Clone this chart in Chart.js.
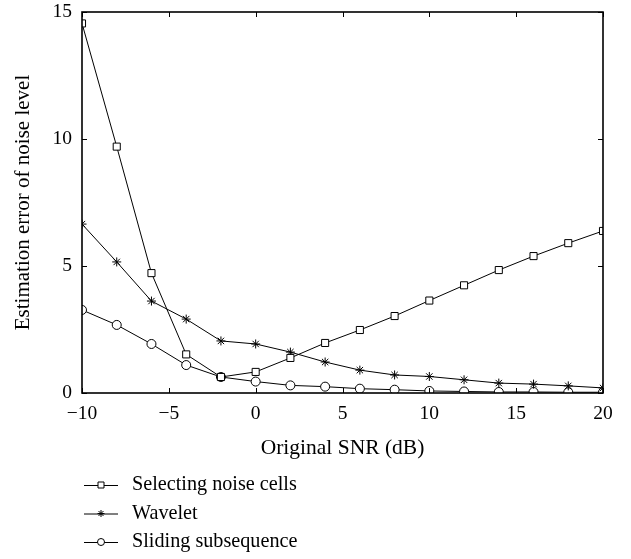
<!DOCTYPE html>
<html>
<head>
<meta charset="utf-8">
<script src="https://cdn.jsdelivr.net/npm/chart.js@4.4.1/dist/chart.umd.min.js"></script>
<style>
  html, body { margin: 0; padding: 0; background: #fff; }
  #wrap { width: 631px; height: 559px; }
</style>
</head>
<body>
<div id="wrap"><canvas id="chart" width="631" height="559"></canvas></div>
<script>
// SNR values (dB)
const snr = [-10, -8, -6, -4, -2, 0, 2, 4, 6, 8, 10, 12, 14, 16, 18, 20];

// estimation error
const selectingNoiseCells = [14.55, 9.7, 4.72, 1.52, 0.63, 0.83, 1.38, 1.97, 2.48, 3.03, 3.64, 4.24, 4.84, 5.39, 5.9, 6.38];
const wavelet = [6.65, 5.16, 3.62, 2.91, 2.05, 1.93, 1.61, 1.22, 0.9, 0.71, 0.65, 0.52, 0.39, 0.35, 0.28, 0.2];
const slidingSubsequence = [3.27, 2.68, 1.93, 1.1, 0.63, 0.45, 0.3, 0.25, 0.17, 0.13, 0.08, 0.06, 0.04, 0.04, 0.03, 0.03];

const seriesNames = ['Selecting noise cells', 'Wavelet', 'Sliding subsequence'];
const xTicks = [-10, -5, 0, 5, 10, 15, 20];
const yTicks = [0, 5, 10, 15];

const FONT = "'Liberation Serif', 'DejaVu Serif', serif";

function pts(ys) {
    return snr.map((x, i) => ({ x: x, y: ys[i] }));
}

// box round the plot + inward ticks on all four sides
const frame = {
    id: 'frame',
    afterDatasetsDraw(chart) {
        const { ctx, chartArea: a, scales } = chart;
        ctx.save();
        ctx.strokeStyle = '#000';
        ctx.lineWidth = 1;
        ctx.beginPath();
        xTicks.forEach(v => {
            const px = Math.round(scales.x.getPixelForValue(v)) + 0.5;
            ctx.moveTo(px, a.bottom); ctx.lineTo(px, a.bottom - 5);
            ctx.moveTo(px, a.top); ctx.lineTo(px, a.top + 5);
        });
        yTicks.forEach(v => {
            const py = Math.round(scales.y.getPixelForValue(v)) + 0.5;
            ctx.moveTo(a.left, py); ctx.lineTo(a.left + 5, py);
            ctx.moveTo(a.right, py); ctx.lineTo(a.right - 5, py);
        });
        ctx.stroke();
        ctx.lineWidth = 1.6;
        ctx.strokeRect(a.left, a.top, a.right - a.left, a.bottom - a.top);
        ctx.restore();
    }
};

// legend stacked under the x title, like the original figure
const stackedLegend = {
    id: 'stackedLegend',
    afterDraw(chart) {
        const ctx = chart.ctx;
        ctx.save();
        ctx.font = '20.2px ' + FONT;
        ctx.fillStyle = '#000';
        ctx.strokeStyle = '#000';
        ctx.textBaseline = 'middle';
        chart.data.datasets.forEach((ds, i) => {
            const y = 485 + i * 28.5;
            ctx.lineWidth = 1;
            ctx.beginPath();
            ctx.moveTo(84, y + 0.5); ctx.lineTo(118, y + 0.5);
            ctx.stroke();
            const cx = 101;
            ctx.beginPath();
            if (ds.pointStyle === 'rect') {
                ctx.fillStyle = '#fff';
                ctx.rect(cx - 3, y - 3, 6, 6);
                ctx.fill(); ctx.stroke();
            } else if (ds.pointStyle === 'circle') {
                ctx.fillStyle = '#fff';
                ctx.arc(cx, y, 3.5, 0, Math.PI * 2);
                ctx.fill(); ctx.stroke();
            } else {
                for (let k = 0; k < 4; k++) {
                    const ang = k * Math.PI / 4;
                    ctx.moveTo(cx - 3.5 * Math.cos(ang), y - 3.5 * Math.sin(ang));
                    ctx.lineTo(cx + 3.5 * Math.cos(ang), y + 3.5 * Math.sin(ang));
                }
                ctx.stroke();
            }
            ctx.fillStyle = '#000';
            ctx.fillText(ds.label, 132, y);
        });
        ctx.restore();
    }
};

new Chart(document.getElementById('chart'), {
    type: 'line',
    data: {
        datasets: [
            { label: seriesNames[0], data: pts(selectingNoiseCells), pointStyle: 'rect', pointRadius: 5 },
            { label: seriesNames[1], data: pts(wavelet), pointStyle: 'star', pointRadius: 4.5 },
            { label: seriesNames[2], data: pts(slidingSubsequence), pointStyle: 'circle', pointRadius: 4.5 }
        ].map(d => Object.assign(d, {
            borderColor: '#000',
            borderWidth: 1,
            pointBorderColor: '#000',
            pointBackgroundColor: '#fff',
            pointBorderWidth: 1,
            tension: 0,
            fill: false
        }))
    },
    options: {
        responsive: false,
        animation: false,
        layout: { padding: { top: 12, right: 28, bottom: 98, left: 0 } },
        plugins: {
            legend: { display: false },
            tooltip: { enabled: false }
        },
        scales: {
            x: {
                type: 'linear',
                min: -10,
                max: 20,
                afterFit(scale) {
                    scale.height = 68;
                    scale.paddingLeft = 0; scale.paddingRight = 0;
                },
                afterBuildTicks(scale) { scale.ticks = xTicks.map(v => ({ value: v })); },
                grid: { display: false, drawTicks: false },
                border: { display: false },
                ticks: {
                    padding: 9,
                    color: '#000',
                    font: { family: FONT, size: 19.5 },
                    callback: v => String(v).replace('-', '\u2212')
                },
                title: {
                    display: true,
                    text: 'Original SNR (dB)',
                    color: '#000',
                    font: { family: FONT, size: 21.5 },
                    padding: { top: 4, bottom: 0 }
                }
            },
            y: {
                min: 0,
                max: 15,
                afterFit(scale) {
                    scale.width = 82;
                    scale.paddingTop = 0; scale.paddingBottom = 0;
                },
                afterBuildTicks(scale) { scale.ticks = yTicks.map(v => ({ value: v })); },
                grid: { display: false, drawTicks: false },
                border: { display: false },
                ticks: {
                    padding: 10,
                    color: '#000',
                    font: { family: FONT, size: 19.5 }
                },
                title: {
                    display: true,
                    text: 'Estimation error of noise level',
                    color: '#000',
                    font: { family: FONT, size: 21 },
                    padding: { top: 11, bottom: 0 }
                }
            }
        }
    },
    plugins: [frame, stackedLegend]
});
</script>
</body>
</html>
